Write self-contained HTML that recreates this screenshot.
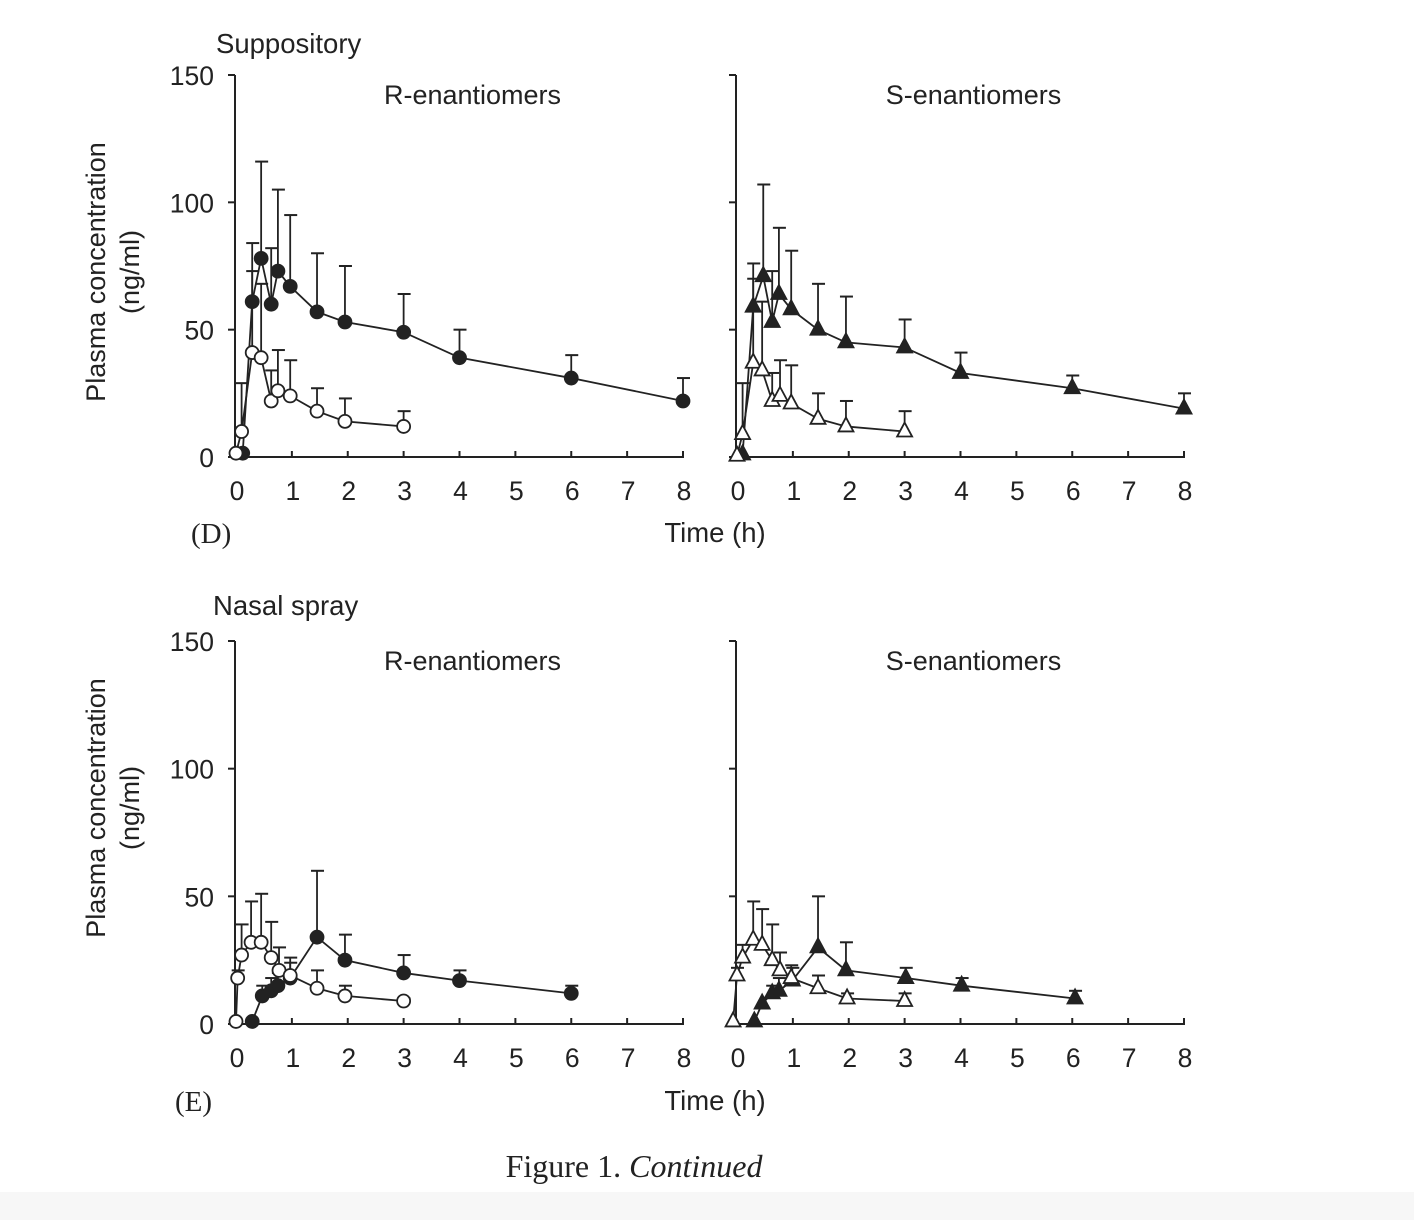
<!DOCTYPE html>
<html><head><meta charset="utf-8">
<style>
html,body{margin:0;padding:0;background:#fff;}
svg{display:block;}
text{font-family:"Liberation Sans",Arial,sans-serif;fill:#222;}
.serif{font-family:"Liberation Serif","Times New Roman",serif;}
</style></head>
<body>
<svg id="fig" width="1414" height="1220" viewBox="0 0 1414 1220" xmlns="http://www.w3.org/2000/svg">
<rect x="0" y="1192" width="1414" height="28" fill="#f7f7f7"/>
<text x="216" y="53" font-size="27.5">Suppository</text>
<text x="213" y="615" font-size="27.5">Nasal spray</text>
<text x="191" y="543" font-size="29" class="serif">(D)</text>
<text x="175" y="1111" font-size="29" class="serif">(E)</text>
<text x="715" y="542" font-size="27.5" text-anchor="middle">Time (h)</text>
<text x="715" y="1110" font-size="27.5" text-anchor="middle">Time (h)</text>
<g transform="translate(105,272) rotate(-90)">
<text x="0" y="0" font-size="27" text-anchor="middle">Plasma concentration</text>
<text x="0" y="34" font-size="27" text-anchor="middle">(ng/ml)</text></g>
<g transform="translate(105,808) rotate(-90)">
<text x="0" y="0" font-size="27" text-anchor="middle">Plasma concentration</text>
<text x="0" y="34" font-size="27" text-anchor="middle">(ng/ml)</text></g>
<text x="634" y="1177" font-size="32" text-anchor="middle" class="serif">Figure 1.  <tspan font-style="italic">Continued</tspan></text>
<g id="plots"></g>
</svg>
<script>
// Suppository R (circles)
const supRFilledT = [0.12,0.29,0.45,0.63,0.75,0.97,1.45,1.95,3,4,6,8];
const supRFilledV = [1.5,61,78,60,73,67,57,53,49,39,31,22];
const supRFilledE = [null,84,116,82,105,95,80,75,64,50,40,31];
const supROpenT = [0,0.1,0.29,0.45,0.63,0.75,0.97,1.45,1.95,3];
const supROpenV = [1.5,10,41,39,22,26,24,18,14,12];
const supROpenE = [null,29,73,68,34,42,38,27,23,18];
// Suppository S (triangles)
const supSFilledT = [0.1,0.29,0.47,0.63,0.75,0.97,1.45,1.95,3,4,6,8];
const supSFilledV = [1,59,71,53,64,58,50,45,43,33,27,19];
const supSFilledE = [null,76,107,73,90,81,68,63,54,41,32,25];
const supSOpenT = [0,0.1,0.29,0.45,0.63,0.77,0.97,1.45,1.95,3];
const supSOpenV = [0.5,9,37,34,22,24,21,15,12,10];
const supSOpenE = [null,29,70,61,33,38,36,25,22,18];
// Nasal R
const nasRFilledT = [0.29,0.47,0.63,0.75,0.97,1.45,1.95,3,4,6];
const nasRFilledV = [1,11,13,15,18,34,25,20,17,12];
const nasRFilledE = [null,15,18,20,24,60,35,27,21,15];
const nasROpenT = [0,0.03,0.1,0.27,0.45,0.63,0.77,0.97,1.45,1.95,3];
const nasROpenV = [1,18,27,32,32,26,21,19,14,11,9];
const nasROpenE = [null,21,39,48,51,40,30,26,21,15,10];
// Nasal S
const nasSFilledT = [0.31,0.45,0.63,0.75,0.99,1.45,1.95,3.02,4.02,6.05];
const nasSFilledV = [1,8,12,13,17,30,21,18,15,10];
const nasSFilledE = [null,null,15,18,22,50,32,22,18,13];
const nasSOpenT = [-0.07,0.0,0.1,0.29,0.45,0.63,0.77,0.97,1.45,1.97,3];
const nasSOpenV = [1,19,26,33,31,25,21,18,14,10,9];
const nasSOpenE = [null,22,31,48,45,39,28,23,19,12,12];

const yTicks = [0,50,100,150];
const xTicks = [0,1,2,3,4,5,6,7,8];

const NS = "http://www.w3.org/2000/svg";
const root = document.getElementById('plots');
function mk(tag, attrs, parent){
  const e = document.createElementNS(NS, tag);
  for (const k in attrs) e.setAttribute(k, attrs[k]);
  (parent||root).appendChild(e);
  return e;
}
function panel(name, x0, x8, y0, y150, title, series){
  const g = mk('g', {});
  
  
  const sx = t => x0 + (x8 - x0) * t / 8;
  const sy = v => y0 - (y0 - y150) * v / 150;
  const ax = x0 - 1;
  const yaxis = mk('line', {x1:ax, y1:y150, x2:ax, y2:y0, stroke:'#222','stroke-width':2}, g);
  
  
  const xaxis = mk('line', {x1:ax, y1:y0, x2:x8+1, y2:y0, stroke:'#222','stroke-width':2}, g);
  
  
  yTicks.forEach(v => {
    mk('line', {x1:ax-7, y1:sy(v), x2:ax, y2:sy(v), stroke:'#222','stroke-width':2}, g);
    if (x0 < 500) {
      const t = mk('text', {x:ax-21, y:sy(v)+10, 'font-size':26.5, 'text-anchor':'end'}, g);
      t.textContent = v;
      
      
    }
  });
  xTicks.forEach(v => {
    if (v > 0) mk('line', {x1:sx(v), y1:y0-6, x2:sx(v), y2:y0, stroke:'#222','stroke-width':2}, g);
    const t = mk('text', {x:sx(v)+1, y:y0+43, 'font-size':26.5, 'text-anchor':'middle'}, g);
    t.textContent = v;
    
    
  });
  const tt = mk('text', {x:(x0+x8)/2 + 13, y:y150+29, 'font-size':27, 'text-anchor':'middle'}, g);
  tt.textContent = title;
  
  
  series.forEach(s => {
    const sg = mk('g', {}, g);
    
    
    s.T.forEach((t,i) => {
      if (s.E[i] == null) return;
      const x = sx(t);
      mk('line', {x1:x, y1:sy(s.V[i]), x2:x, y2:sy(s.E[i]), stroke:'#222','stroke-width':1.8}, sg);
      mk('line', {x1:x-6, y1:sy(s.E[i]), x2:x+7, y2:sy(s.E[i]), stroke:'#222','stroke-width':2}, sg);
    });
    const pts = s.T.map((t,i) => sx(t)+','+sy(s.V[i])).join(' ');
    mk('polyline', {points:pts, fill:'none', stroke:'#222','stroke-width':1.8}, sg);
    s.T.forEach((t,i) => {
      const x = sx(t), y = sy(s.V[i]);
      const fill = s.filled ? '#222' : '#fff';
      let m;
      if (s.shape === 'circle') {
        m = mk('circle', {cx:x, cy:y, r:6.5, fill:fill, stroke:'#222','stroke-width':1.8}, sg);
      } else {
        m = mk('polygon', {points:`${x},${y-9} ${x+7.5},${y+5} ${x-7.5},${y+5}`, fill:fill, stroke:'#222','stroke-width':1.8}, sg);
      }
      
      
    });
  });
}
panel('panel-d-r-enantiomers', 236, 683, 457, 75, 'R-enantiomers', [
  {name:'series-r-filled', T:supRFilledT, V:supRFilledV, E:supRFilledE, filled:true, shape:'circle'},
  {name:'series-r-open', T:supROpenT, V:supROpenV, E:supROpenE, filled:false, shape:'circle'}]);
panel('panel-d-s-enantiomers', 737, 1184, 457, 75, 'S-enantiomers', [
  {name:'series-s-filled', T:supSFilledT, V:supSFilledV, E:supSFilledE, filled:true, shape:'tri'},
  {name:'series-s-open', T:supSOpenT, V:supSOpenV, E:supSOpenE, filled:false, shape:'tri'}]);
panel('panel-e-r-enantiomers', 236, 683, 1024, 641, 'R-enantiomers', [
  {name:'series-r-filled', T:nasRFilledT, V:nasRFilledV, E:nasRFilledE, filled:true, shape:'circle'},
  {name:'series-r-open', T:nasROpenT, V:nasROpenV, E:nasROpenE, filled:false, shape:'circle'}]);
panel('panel-e-s-enantiomers', 737, 1184, 1024, 641, 'S-enantiomers', [
  {name:'series-s-filled', T:nasSFilledT, V:nasSFilledV, E:nasSFilledE, filled:true, shape:'tri'},
  {name:'series-s-open', T:nasSOpenT, V:nasSOpenV, E:nasSOpenE, filled:false, shape:'tri'}]);
</script>
</body></html>
